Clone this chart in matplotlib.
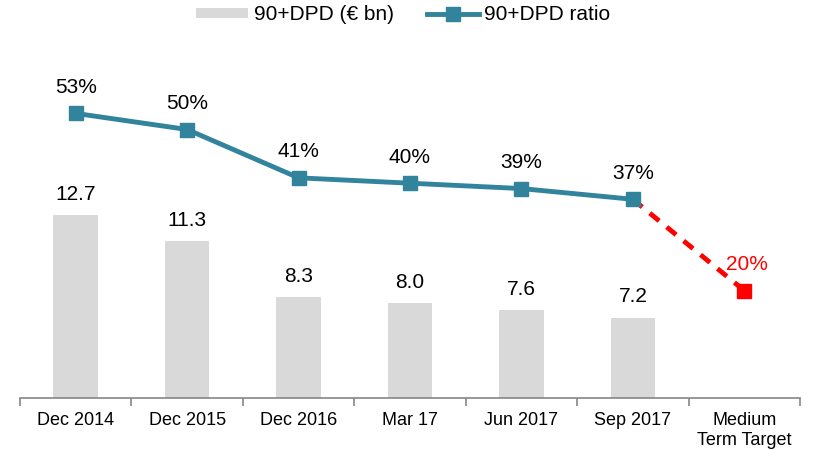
import matplotlib
matplotlib.use("Agg")
import matplotlib.pyplot as plt
import numpy as np
from matplotlib.lines import Line2D
from matplotlib.patches import Patch

plt.rcParams['font.family'] = ['Liberation Sans', 'DejaVu Sans']

# data
periods = ["Dec 2014", "Dec 2015", "Dec 2016", "Mar 17", "Jun 2017", "Sep 2017", "Medium\nTerm Target"]
dpd_bn = [12.7, 11.3, 8.3, 8.0, 7.6, 7.2]
dpd_ratio = [53, 50, 41, 40, 39, 37]
target_ratio = 20

bar_col = '#D9D9D9'
line_col = '#31849B'

fig = plt.figure(figsize=(8.15, 4.5), dpi=100)
ax = fig.add_axes([20/815, 52/450, 780/815, 358/450])
ax2 = ax.twinx()

x = np.arange(len(periods))
xb = x[:len(dpd_bn)]
ax.bar(xb, dpd_bn, width=0.4, color=bar_col, zorder=1)
for xi, v in zip(xb, dpd_bn):
    ax.annotate(f"{v:.1f}", (xi, v), xytext=(0, 8), textcoords='offset points',
                ha='center', va='bottom', fontsize=15)
ax.set_ylim(2.9, 2.9 + 358/18.7)
ax.set_xlim(-0.5, len(periods) - 0.5)

# ratio line
ax2.plot(xb, dpd_ratio, color=line_col, lw=3.5, marker='s', ms=10, zorder=3)
ax2.plot([xb[-1], x[-1]], [dpd_ratio[-1], target_ratio], color='red', lw=3.5,
         ls=(0, (2.5, 2)), zorder=2)
ax2.plot([x[-1]], [target_ratio], color='red', marker='s', ms=10, ls='none', zorder=3)
for xi, v in zip(xb, dpd_ratio):
    ax2.annotate(f"{v}%", (xi, v), xytext=(0, 12), textcoords='offset points',
                 ha='center', va='bottom', fontsize=15)
ax2.annotate(f"{target_ratio}%", (x[-1], target_ratio), xytext=(2, 12),
             textcoords='offset points', ha='center', va='bottom', fontsize=15, color='red')
ax2.set_ylim(0, 358/5.37)

for a in (ax, ax2):
    for s in ['top', 'right', 'left']:
        a.spines[s].set_visible(False)
    a.set_yticks([])
ax2.spines['bottom'].set_visible(False)
ax.spines['bottom'].set_color('#868686')
ax.spines['bottom'].set_linewidth(1.2)

ax.set_xticks(x)
ax.set_xticklabels(periods, fontsize=13, linespacing=1.25)
ax.tick_params(axis='x', which='major', length=0, pad=10)
ax.set_xticks(np.arange(-0.5, len(periods)), minor=True)
ax.tick_params(axis='x', which='minor', length=6, color='#868686', width=1.2)

handles = [Patch(facecolor=bar_col, edgecolor='none'),
           Line2D([], [], color=line_col, lw=3.5, marker='s', ms=10)]
fig.legend(handles, ["90+DPD (€ bn)", "90+DPD ratio"], loc='center', bbox_to_anchor=(0.495, 1 - 15/450),
           ncol=2, frameon=False, fontsize=15, handlelength=2.5, handleheight=0.4,
           columnspacing=1.6, handletextpad=0.25)

fig.savefig('out.png', dpi=100)
